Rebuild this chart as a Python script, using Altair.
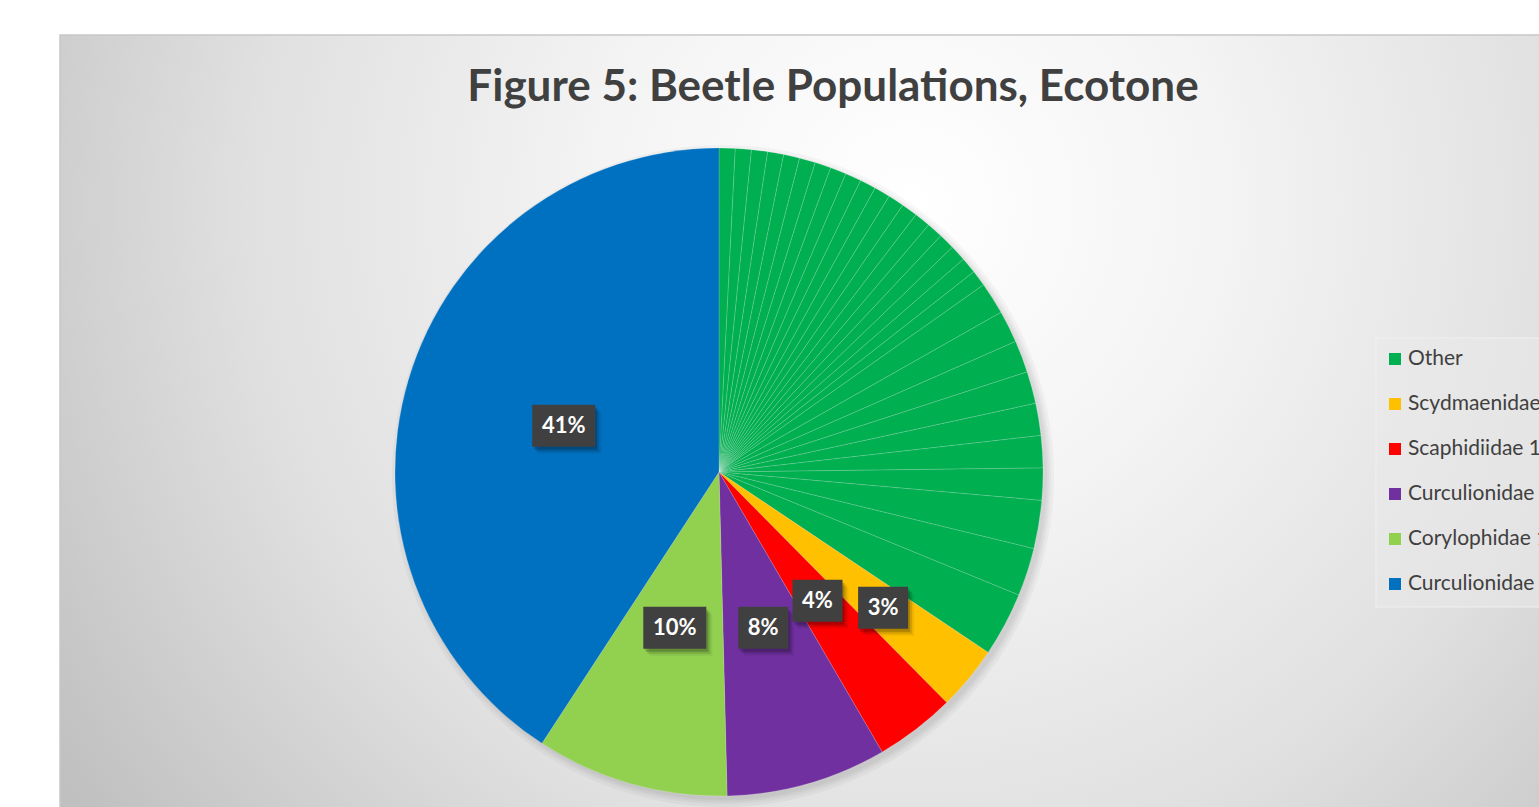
import altair as alt
import pandas as pd

# ---- data (counts of beetles; pie sorted ascending) ----
other_counts = [1, 1, 1, 1, 1, 1, 1, 1, 1, 1, 1, 1, 1, 1, 1, 1, 1, 1, 1,
                2, 2, 2, 2, 2, 2, 2, 3, 3, 4]
named_families = ["Scydmaenidae 1", "Scaphidiidae 1", "Curculionidae 2",
                  "Corylophidae 1", "Curculionidae 1"]
named_counts = [4, 5, 10, 12, 51]
legend_labels = ["Other"] + named_families
palette = ["#00B050", "#FFC000", "#FF0000", "#7030A0", "#92D050", "#0070C0"]
title_text = "Figure 5: Beetle Populations, Ecotone"

rows = []
idx = 0
for v in other_counts:
    rows.append({"slice": f"o{idx}", "group": "Other", "count": v, "idx": idx})
    idx += 1
for name, v in zip(named_families, named_counts):
    rows.append({"slice": name, "group": name, "count": v, "idx": idx})
    idx += 1
pie_df = pd.DataFrame(rows)
legend_df = pd.DataFrame({"group": legend_labels, "order": list(range(len(legend_labels)))})
one = pd.DataFrame({"a": [0]})

CX, CY, R = 719, 472, 324
color_scale = alt.Scale(domain=legend_labels, range=palette)

# ---- chart area background ----
bg = alt.Chart(one).mark_rect(
    fill={"gradient": "radial",
          "x1": 0.55, "y1": 0.33, "r1": 0.0,
          "x2": 0.55, "y2": 0.33, "r2": 0.66,
          "stops": [{"offset": 0.0, "color": "#ffffff"},
                    {"offset": 0.3, "color": "#f4f4f4"},
                    {"offset": 0.65, "color": "#e0e0e0"},
                    {"offset": 1.0, "color": "#c0c0c0"}]},
    stroke="#c8c8c8", strokeWidth=1.5
).encode(x=alt.value(60), x2=alt.value(1606), y=alt.value(35), y2=alt.value(900))

title = alt.Chart(pd.DataFrame({"t": [title_text]})).mark_text(
    font="Lato", fontSize=44, fontWeight="bold", color="#404040",
    align="center", baseline="middle"
).encode(x=alt.value(833), y=alt.value(88), text="t:N")

# soft shadow, mostly toward the lower right of the pie
shadows = [
    alt.Chart(one).mark_arc(radius=R + d, theta=0, theta2=6.2832,
                            fill="#000000", opacity=0.03).encode(
        x=alt.value(CX + 4), y=alt.value(CY + 4))
    for d in (0, 2, 4, 7)
]

pie = alt.Chart(pie_df).mark_arc(
    radius=R, stroke="white", strokeWidth=0.5, strokeOpacity=0.3
).encode(
    theta=alt.Theta("count:Q", stack=True),
    color=alt.Color("group:N", scale=color_scale, legend=None),
    order=alt.Order("idx:Q"),
    detail=alt.Detail("slice:N"),
    x=alt.value(CX), y=alt.value(CY),
)

lab_base = alt.Chart(pie_df).transform_joinaggregate(
    total="sum(count)"
).transform_window(
    cum="sum(count)", sort=[alt.SortField("idx")], frame=[None, 0]
).transform_calculate(
    mid="(datum.cum - datum.count/2) / datum.total * 2 * PI"
).transform_filter(
    "datum.group != 'Other'"
).transform_calculate(
    lr="datum.group == 'Scydmaenidae 1' ? 213 : 162",
    label="format(datum.count / datum.total, '.0%')",
).transform_calculate(
    px=f"{CX} + datum.lr * sin(datum.mid)",
    py=f"{CY} - datum.lr * cos(datum.mid)",
    hw="(24 + 13 * length(datum.label)) / 2",
).transform_calculate(
    bx1="datum.px - datum.hw", bx2="datum.px + datum.hw",
    by1="datum.py - 21", by2="datum.py + 21",
)

box_shadows = [
    lab_base.transform_calculate(
        sx1=f"datum.bx1 + {o}", sx2=f"datum.bx2 + {o}",
        sy1=f"datum.by1 + {o + 1}", sy2=f"datum.by2 + {o + 1}",
    ).mark_rect(fill="#000000", opacity=op).encode(
        x=alt.X("sx1:Q", scale=None, axis=None), x2="sx2:Q",
        y=alt.Y("sy1:Q", scale=None, axis=None), y2="sy2:Q",
    )
    for o, op in ((2, 0.18), (4, 0.12), (6, 0.06))
]
boxes = lab_base.mark_rect(fill="#404040").encode(
    x=alt.X("bx1:Q", scale=None, axis=None), x2="bx2:Q",
    y=alt.Y("by1:Q", scale=None, axis=None), y2="by2:Q",
)
labels = lab_base.mark_text(
    font="Lato", fontSize=22, fontWeight="bold", color="white",
    align="center", baseline="middle"
).encode(
    x=alt.X("px:Q", scale=None, axis=None),
    y=alt.Y("py:Q", scale=None, axis=None),
    text="label:N",
)

# ---- legend (clipped at the right edge like the original) ----
legend_box = alt.Chart(one).mark_rect(
    fill="#e9e9e9", fillOpacity=0.55, stroke="#f0f0f0", strokeWidth=1
).encode(x=alt.value(1376), x2=alt.value(1610), y=alt.value(338), y2=alt.value(607))

leg_base = alt.Chart(legend_df).transform_calculate(ly="359 + 45 * datum.order")
leg_sym = leg_base.mark_square(size=144, opacity=1).encode(
    x=alt.value(1395),
    y=alt.Y("ly:Q", scale=None, axis=None),
    color=alt.Color("group:N", scale=color_scale, legend=None),
)
leg_txt = leg_base.mark_text(
    font="Lato", fontSize=21, color="#404040", align="left", baseline="middle"
).encode(
    x=alt.value(1408),
    y=alt.Y("ly:Q", scale=None, axis=None),
    text="group:N",
)

chart = alt.layer(
    bg, title, *shadows, pie, *box_shadows, boxes, labels, legend_box, leg_sym, leg_txt
).properties(
    width=1539, height=807, autosize="none", padding=0, background="white"
).configure_view(stroke=None)

chart.save("out.html", embed_options={"renderer": "svg", "actions": False})
